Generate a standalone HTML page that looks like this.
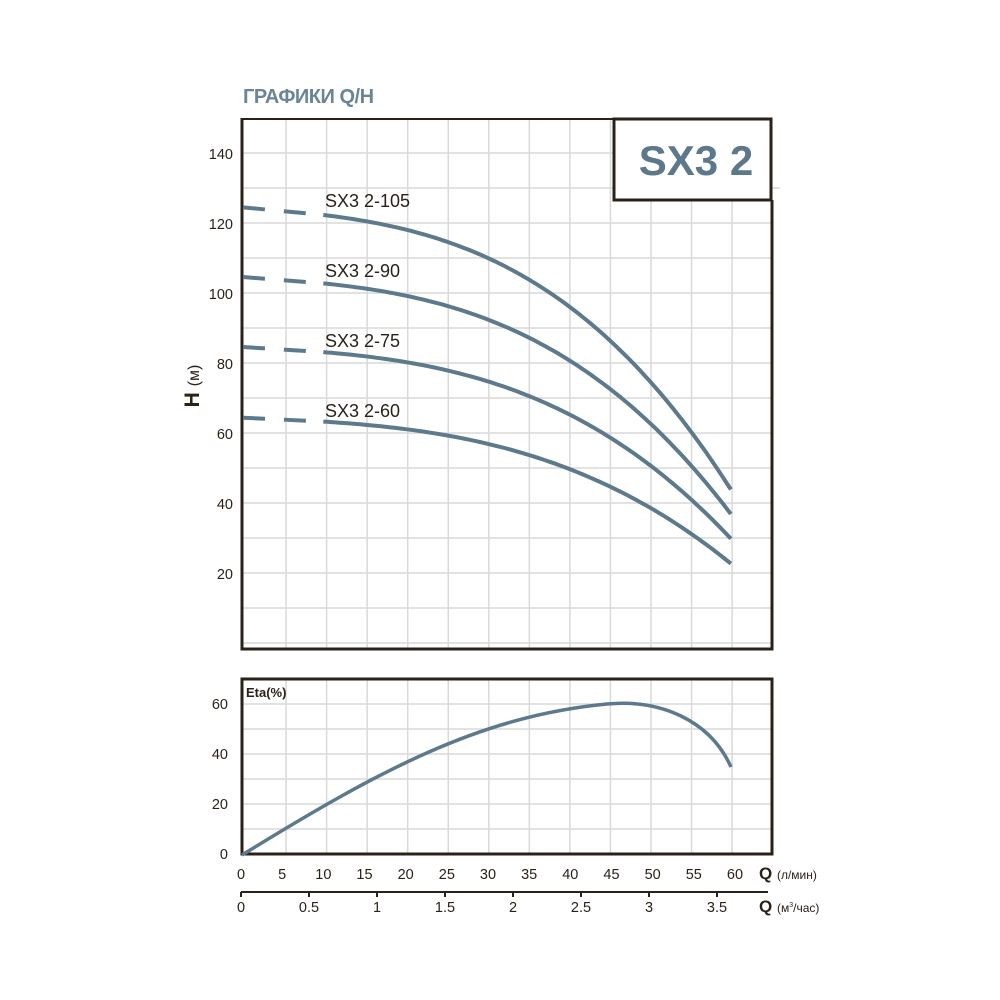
<!DOCTYPE html>
<html><head><meta charset="utf-8"><style>
body{margin:0;background:#fff}
svg{display:block}
text{font-family:"Liberation Sans",Arial,sans-serif;fill:#2a2218}
</style></head><body>
<svg id="s" width="1000" height="1000" viewBox="0 0 1000 1000">
<rect width="1000" height="1000" fill="#fff"/>
<text x="243" y="103" font-size="20" font-weight="bold" style="fill:#6a8597" letter-spacing="-0.5">ГРАФИКИ Q/H</text>
<g id="grid" stroke="#d9d9d9" stroke-width="1.5"></g>
<path d="M242,118 V649 H772 V200" fill="none" stroke="#2a2218" stroke-width="3"/>
<path d="M242,119 H614" fill="none" stroke="#2a2218" stroke-width="2"/>
<rect x="614" y="119" width="157" height="81" fill="#fff" stroke="#2a2218" stroke-width="3"/>
<text x="696" y="175" font-size="42" font-weight="bold" text-anchor="middle" style="fill:#5c788a">SX3 2</text>
<rect x="242" y="679" width="530" height="175" fill="none" stroke="#2a2218" stroke-width="3"/>
<text x="246" y="697" font-size="13" font-weight="bold">Eta(%)</text>
<g font-size="14.5" text-anchor="end">
<text x="233" y="159">140</text><text x="233" y="229">120</text><text x="233" y="299">100</text>
<text x="233" y="369">80</text><text x="233" y="439">60</text><text x="233" y="509">40</text><text x="233" y="579">20</text>
<text x="228" y="709">60</text><text x="228" y="759">40</text><text x="228" y="809">20</text><text x="228" y="859">0</text>
</g>
<text transform="translate(199,386) rotate(-90)" text-anchor="middle" font-size="21" font-weight="bold">H <tspan font-size="16" font-weight="normal">(м)</tspan></text>
<g id="xl" font-size="14.5" text-anchor="middle"></g>
<text x="759" y="879" font-size="17" font-weight="bold">Q <tspan font-size="12" font-weight="normal">(л/мин)</tspan></text>
<path d="M241,892 H768" stroke="#2a2218" stroke-width="2"/>
<g id="x2" font-size="14.5" text-anchor="middle"></g>
<text x="759" y="912" font-size="17" font-weight="bold">Q <tspan font-size="12" font-weight="normal">(м<tspan font-size="7" dy="-5">3</tspan><tspan dy="5">/час)</tspan></tspan></text>
<g id="curves" fill="none" stroke="#5d7a8c" stroke-width="4">
<path d="M242,855 C380,770 480,716 607,704 C660,699 710,720 731,767" stroke-width="3.5"/>
</g>
<g font-size="18">
<text x="325" y="207">SX3 2-105</text><text x="325" y="277">SX3 2-90</text>
<text x="325" y="347">SX3 2-75</text><text x="325" y="417">SX3 2-60</text>
</g>
</svg>
<script>
var NS="http://www.w3.org/2000/svg";
function el(p,t,a,txt){var e=document.createElementNS(NS,t);for(var k in a)e.setAttribute(k,a[k]);if(txt!=null)e.textContent=txt;document.getElementById(p).appendChild(e);return e;}
for(var k=1;k<=12;k++){var x=245.5+40.55*k;if(x<771){el("grid","line",{x1:x,y1:120,x2:x,y2:648});el("grid","line",{x1:x,y1:680,x2:x,y2:853});}}
for(var y=153;y<648;y+=35){el("grid","line",{x1:243,y1:y,x2:y<200?(y>180?780:614):771,y2:y});}
for(var y=704;y<854;y+=25){el("grid","line",{x1:243,y1:y,x2:771,y2:y});}
for(var q=0;q<=60;q+=5){el("xl","text",{x:241+q*8.233,y:879},String(q));}
var m=["0","0.5","1","1.5","2","2.5","3","3.5"];
for(var i=0;i<8;i++){var x=241+i*68;el("x2","line",{x1:x,y1:892,x2:x,y2:897,stroke:"#2a2218","stroke-width":2});el("x2","text",{x:x,y:912},m[i]);}
function X(q){return 241+q*8.233;}
[124.5,104.6,84.6,64.4].forEach(function(H0){
 function Y(q){var d=(0.187*q+0.00033*q*q*q)/124.5;return 643-3.5*H0*(1-d);}
 el("curves","path",{d:"M243,"+Y(0.2).toFixed(1)+" L"+X(10)+","+Y(10).toFixed(1),"stroke-dasharray":"22 19"});
 var d="M"+X(10)+","+Y(10).toFixed(1);
 for(var q=10.5;q<=59.5;q+=0.5)d+=" L"+X(q).toFixed(1)+","+Y(q).toFixed(1);
 el("curves","path",{d:d});
});
</script>
</body></html>
